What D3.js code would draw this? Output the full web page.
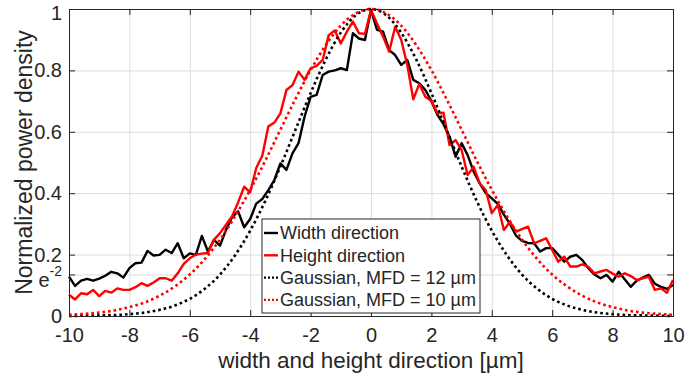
<!DOCTYPE html>
<html>
<head>
<meta charset="utf-8">
<title>Power density profile</title>
<script src="https://cdn.jsdelivr.net/npm/d3@7"></script>
<style>
  body { margin: 0; background: #fff; }
  svg text { font-family: "Liberation Sans", Arial, sans-serif; fill: #262626; }
</style>
</head>
<body>
<svg id="chart" width="692" height="374"></svg>
<script>
// measured profiles, 0.2 um sampling
const xSample = [
  -10, -9.8, -9.6, -9.4, -9.2, -9, -8.8, -8.6, -8.4, -8.2,
  -8, -7.8, -7.6, -7.4, -7.2, -7, -6.8, -6.6, -6.4, -6.2,
  -6, -5.8, -5.6, -5.4, -5.2, -5, -4.8, -4.6, -4.4, -4.2,
  -4, -3.8, -3.6, -3.4, -3.2, -3, -2.8, -2.6, -2.4, -2.2,
  -2, -1.8, -1.6, -1.4, -1.2, -1, -0.8, -0.6, -0.4, -0.2,
  0, 0.2, 0.4, 0.6, 0.8, 1, 1.2, 1.4, 1.6, 1.8,
  2, 2.2, 2.4, 2.6, 2.8, 3, 3.2, 3.4, 3.6, 3.8,
  4, 4.2, 4.4, 4.6, 4.8, 5, 5.2, 5.4, 5.6, 5.8,
  6, 6.2, 6.4, 6.6, 6.8, 7, 7.2, 7.4, 7.6, 7.8,
  8, 8.2, 8.4, 8.6, 8.8, 9, 9.2, 9.4, 9.6, 9.8,
  10
];
const widthDir = [
  0.128, 0.098, 0.115, 0.121, 0.115, 0.122, 0.131, 0.144, 0.139, 0.125,
  0.156, 0.172, 0.174, 0.212, 0.197, 0.199, 0.216, 0.205, 0.237, 0.188,
  0.204, 0.199, 0.261, 0.210, 0.248, 0.229, 0.281, 0.322, 0.341, 0.289,
  0.316, 0.366, 0.381, 0.410, 0.443, 0.497, 0.476, 0.530, 0.563, 0.649,
  0.714, 0.720, 0.785, 0.796, 0.800, 0.807, 0.801, 0.921, 0.904, 0.899,
  0.997, 0.932, 0.926, 0.866, 0.850, 0.818, 0.834, 0.769, 0.758, 0.736,
  0.700, 0.655, 0.625, 0.584, 0.519, 0.563, 0.524, 0.470, 0.432, 0.400,
  0.383, 0.365, 0.330, 0.300, 0.262, 0.245, 0.238, 0.237, 0.210, 0.221,
  0.221, 0.200, 0.177, 0.193, 0.199, 0.182, 0.155, 0.135, 0.123, 0.134,
  0.112, 0.144, 0.120, 0.095, 0.115, 0.125, 0.134, 0.105, 0.095, 0.088,
  0.101
];
const heightDir = [
  0.069, 0.054, 0.074, 0.071, 0.085, 0.065, 0.082, 0.076, 0.090, 0.085,
  0.085, 0.094, 0.107, 0.098, 0.109, 0.123, 0.123, 0.115, 0.139, 0.170,
  0.188, 0.200, 0.203, 0.205, 0.248, 0.270, 0.297, 0.325, 0.370, 0.421,
  0.403, 0.482, 0.522, 0.617, 0.630, 0.660, 0.736, 0.752, 0.796, 0.769,
  0.807, 0.815, 0.834, 0.915, 0.930, 0.888, 0.926, 0.959, 0.921, 0.919,
  0.997, 0.953, 0.910, 0.861, 0.942, 0.900, 0.818, 0.706, 0.756, 0.714,
  0.700, 0.660, 0.662, 0.557, 0.573, 0.541, 0.459, 0.486, 0.432, 0.410,
  0.335, 0.362, 0.280, 0.307, 0.275, 0.283, 0.291, 0.237, 0.245, 0.253,
  0.215, 0.177, 0.193, 0.161, 0.161, 0.168, 0.160, 0.139, 0.145, 0.150,
  0.138, 0.128, 0.139, 0.130, 0.117, 0.123, 0.128, 0.085, 0.090, 0.076,
  0.117
];

// gaussian fits, read at 0.5 um
const xGauss = [
  -10, -9.5, -9, -8.5, -8, -7.5, -7, -6.5, -6, -5.5, -5, -4.5, -4, -3.5, -3, -2.5, -2, -1.5, -1, -0.5,
  0, 0.5, 1, 1.5, 2, 2.5, 3, 3.5, 4, 4.5, 5, 5.5, 6, 6.5, 7, 7.5, 8, 8.5, 9, 9.5, 10
];
const gaussBlack = [
  0.000, 0.001, 0.002, 0.003, 0.006, 0.011, 0.020, 0.034, 0.056, 0.089, 0.135, 0.198, 0.278, 0.375, 0.487, 0.607, 0.726, 0.835, 0.923, 0.980,
  1.000, 0.980, 0.923, 0.835, 0.726, 0.607, 0.487, 0.375, 0.278, 0.198, 0.135, 0.089, 0.056, 0.034, 0.020, 0.011, 0.006, 0.003, 0.002, 0.001, 0.000
];
const gaussRed = [
  0.004, 0.007, 0.011, 0.018, 0.029, 0.044, 0.066, 0.096, 0.135, 0.186, 0.249, 0.325, 0.411, 0.506, 0.607, 0.707, 0.801, 0.882, 0.946, 0.986,
  1.000, 0.986, 0.946, 0.882, 0.801, 0.707, 0.607, 0.506, 0.411, 0.325, 0.249, 0.186, 0.135, 0.096, 0.066, 0.044, 0.029, 0.018, 0.011, 0.007, 0.004
];

const xTicks = [-10, -8, -6, -4, -2, 0, 2, 4, 6, 8, 10];
const yTicks = [0, Math.exp(-2), 0.2, 0.4, 0.6, 0.8, 1];
const yTickLabels = ["0", "e-2", "0.2", "0.4", "0.6", "0.8", "1"];
const legendLabels = ["Width direction", "Height direction", "Gaussian, MFD = 12 \u00b5m", "Gaussian, MFD = 10 \u00b5m"];

const margin = {left: 69, right: 19, top: 9, bottom: 58};
const W = 692, H = 374;
const iw = W - margin.left - margin.right;
const ih = H - margin.top - margin.bottom;

const svg = d3.select("#chart");
const g = svg.append("g").attr("transform", `translate(${margin.left},${margin.top})`);

const x = d3.scaleLinear().domain([-10, 10]).range([0, iw]);
const y = d3.scaleLinear().domain([0, 1]).range([ih, 0]);

// grid
g.append("g")
  .attr("transform", `translate(0,${ih})`)
  .call(d3.axisBottom(x).tickValues(xTicks).tickSize(-ih).tickFormat(""))
  .call(a => a.select(".domain").remove())
  .selectAll("line").attr("stroke", "#dcdcdc").attr("stroke-width", 1);
g.append("g")
  .call(d3.axisLeft(y).tickValues(yTicks).tickSize(-iw).tickFormat(""))
  .call(a => a.select(".domain").remove())
  .selectAll("line").attr("stroke", "#dcdcdc").attr("stroke-width", 1);

// lines
const line = d3.line().x(d => x(d[0])).y(d => y(d[1]));
const smooth = d3.line().x(d => x(d[0])).y(d => y(d[1])).curve(d3.curveMonotoneX);

const series = [
  {vals: d3.zip(xSample, widthDir), color: "#000", dotted: false},
  {vals: d3.zip(xSample, heightDir), color: "#ff0000", dotted: false},
  {vals: d3.zip(xGauss, gaussBlack), color: "#000", dotted: true},
  {vals: d3.zip(xGauss, gaussRed), color: "#ff0000", dotted: true}
];

series.forEach(s => {
  g.append("path")
    .attr("d", s.dotted ? smooth(s.vals) : line(s.vals))
    .attr("fill", "none")
    .attr("stroke", s.color)
    .attr("stroke-width", s.dotted ? 2.6 : 2.4)
    .attr("stroke-linejoin", "round")
    .attr("stroke-dasharray", s.dotted ? "2.6,3" : null);
});

// axes (ticks inward, box on)
const axCol = "#262626";
const xb = g.append("g").attr("transform", `translate(0,${ih})`)
  .call(d3.axisBottom(x).tickValues(xTicks).tickSize(-6).tickPadding(12).tickFormat(d3.format("d")));
const xt = g.append("g")
  .call(d3.axisTop(x).tickValues(xTicks).tickSize(-6).tickFormat(""));
const yl = g.append("g")
  .call(d3.axisLeft(y).tickValues(yTicks).tickSize(-6).tickPadding(7).tickFormat((d, i) => yTickLabels[i]));
const yr = g.append("g").attr("transform", `translate(${iw},0)`)
  .call(d3.axisRight(y).tickValues(yTicks).tickSize(-6).tickFormat(""));

[xb, xt, yl, yr].forEach(a => {
  a.select(".domain").attr("stroke", axCol).attr("stroke-width", 1);
  a.selectAll(".tick line").attr("stroke", axCol).attr("stroke-width", 1);
  a.selectAll("text").attr("font-size", 20).style("fill", axCol);
});
xb.selectAll("text").text(d => d < 0 ? "-" + Math.abs(d) : d);

// top label sits a bit lower so it stays inside the page
yl.selectAll(".tick text").filter(d => d === 1).attr("dy", "0.5em");

// e^-2 label with superscript
yl.selectAll(".tick text").filter((d, i) => i === 1)
  .text(null)
  .call(t => {
    t.append("tspan").text("e").attr("dy", "0.6em");
    t.append("tspan").text("-2").attr("font-size", 14).attr("dy", "-0.75em");
  })
  .attr("dy", "0.1em");

// axis titles
svg.append("text")
  .attr("x", margin.left + iw / 2)
  .attr("y", 368)
  .attr("text-anchor", "middle")
  .attr("font-size", 22.5)
  .text("width and height direction [\u00b5m]");
svg.append("text")
  .attr("transform", `translate(32,${margin.top + ih / 2}) rotate(-90)`)
  .attr("text-anchor", "middle")
  .attr("font-size", 23)
  .text("Normalized power density");

// legend
const leg = svg.append("g").attr("transform", "translate(262,219)");
leg.append("rect")
  .attr("width", 218).attr("height", 94)
  .attr("fill", "#fff").attr("stroke", axCol).attr("stroke-width", 1);
legendLabels.forEach((lab, i) => {
  const s = series[i];
  const cy = 14 + i * 22.3;
  leg.append("line")
    .attr("x1", 2).attr("x2", 16).attr("y1", cy).attr("y2", cy)
    .attr("stroke", s.color).attr("stroke-width", 2.4)
    .attr("stroke-dasharray", s.dotted ? "2,2" : null);
  leg.append("text")
    .attr("x", 18).attr("y", cy).attr("dy", "0.35em")
    .attr("font-size", 18)
    .text(lab);
});
</script>
</body>
</html>
